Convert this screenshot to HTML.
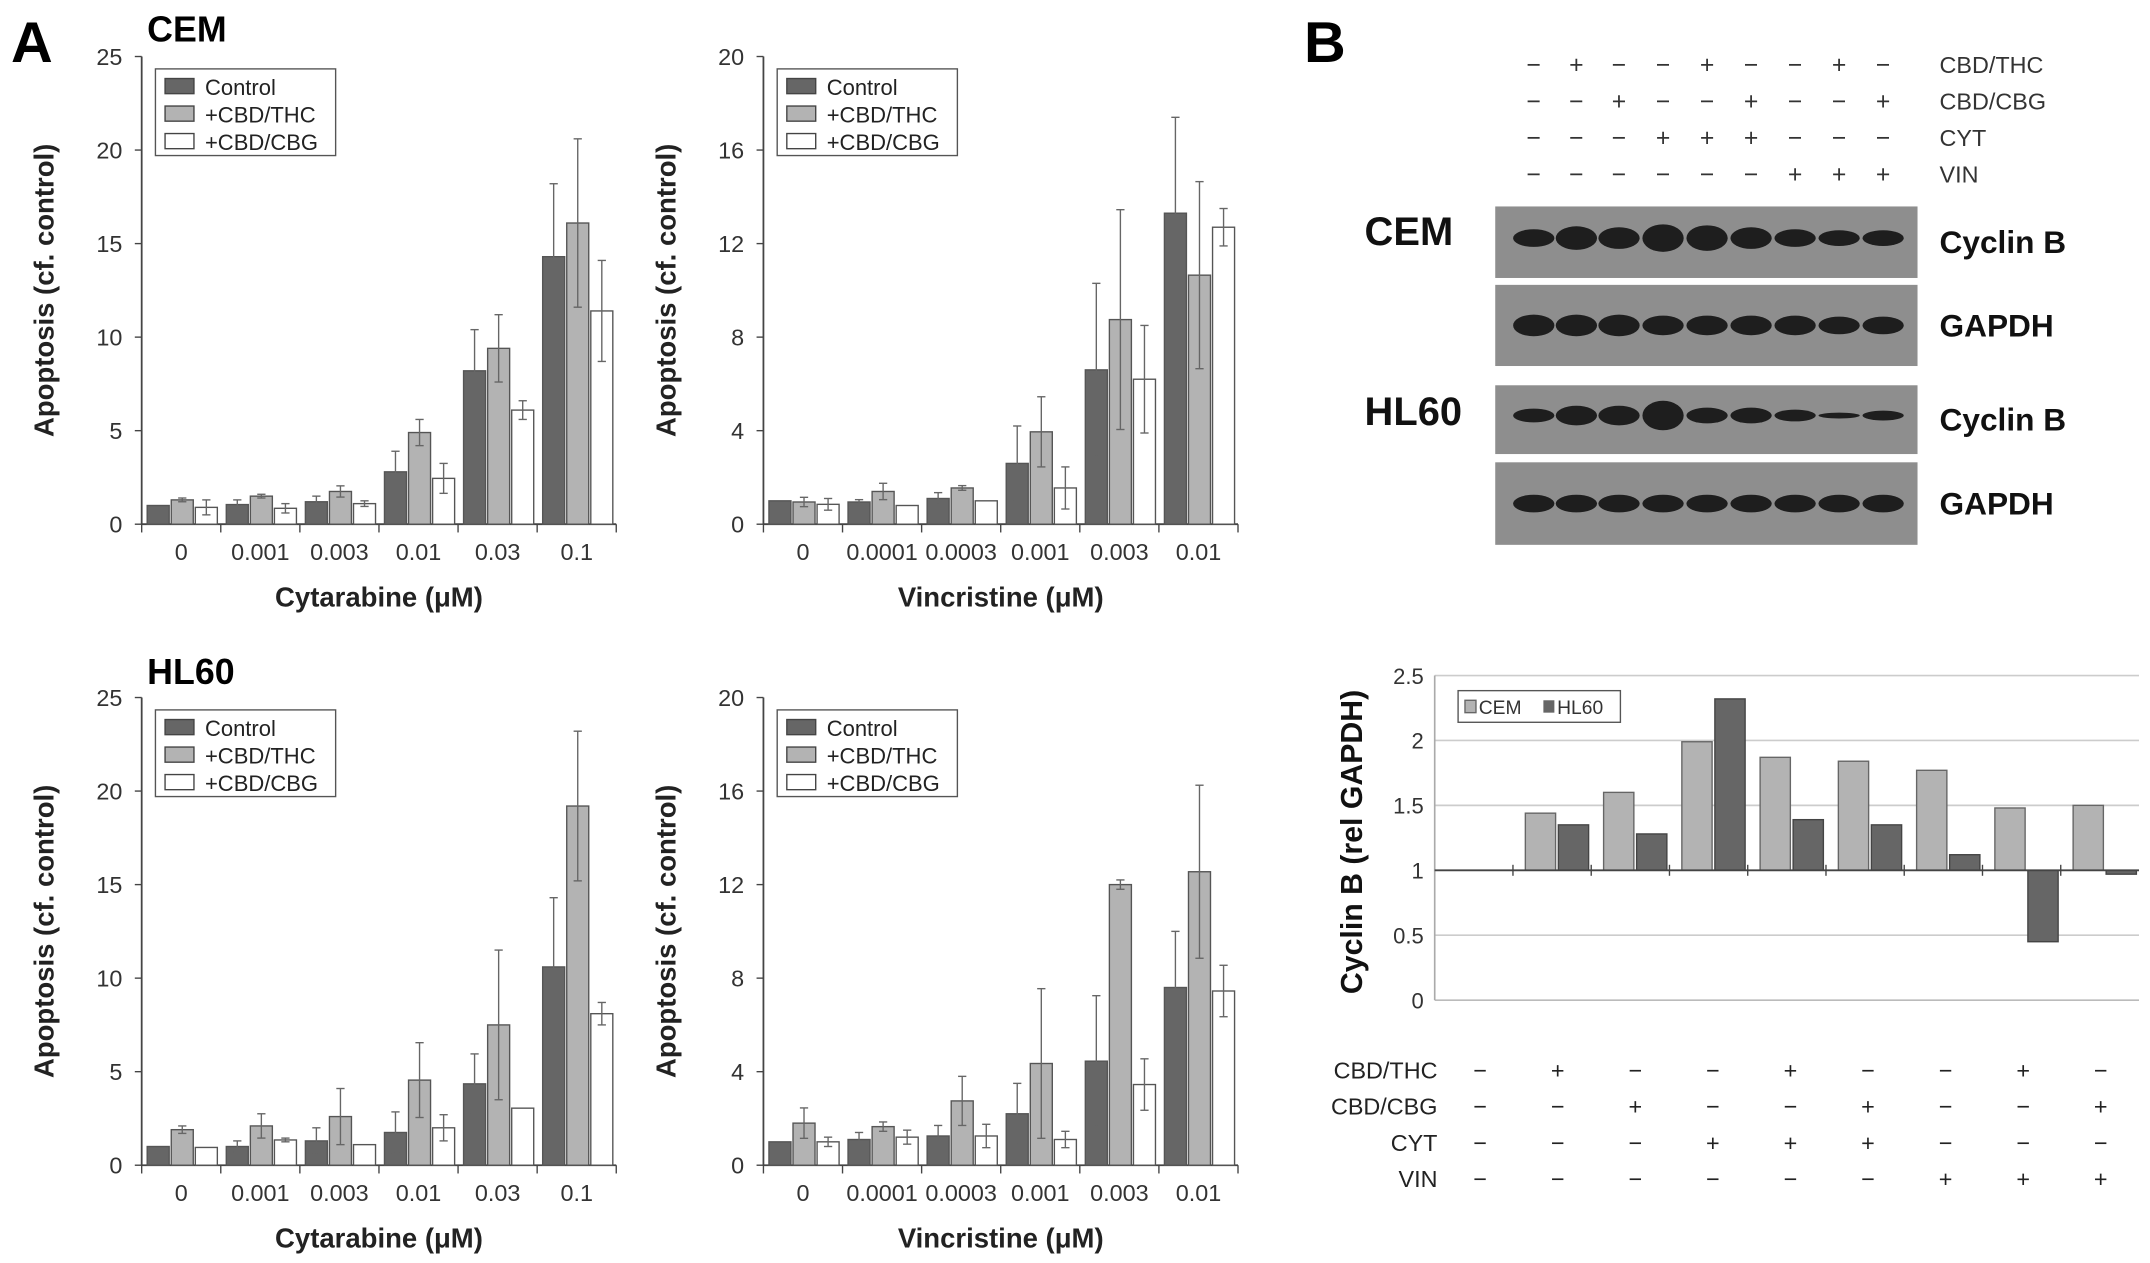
<!DOCTYPE html>
<html><head><meta charset="utf-8"><style>
html,body{margin:0;padding:0;background:#fff}
svg{display:block;font-family:"Liberation Sans",Arial,sans-serif}
</style></head><body>
<svg id="fig" width="2150" height="1263" viewBox="0 0 1563 918" xmlns="http://www.w3.org/2000/svg">
<rect width="1563" height="918" fill="#fff"/>
<text x="8" y="45" font-size="42" font-weight="bold">A</text>
<text x="948" y="45" font-size="42" font-weight="bold">B</text>
<text x="107" y="30" font-size="26" font-weight="bold">CEM</text>
<text x="107" y="497" font-size="26" font-weight="bold">HL60</text>
<g id="panels"></g>
<g id="blots"></g>
<g id="cyclin"></g>
</svg>
<script>
const NS="http://www.w3.org/2000/svg";
const seriesNames=["Control","+CBD/THC","+CBD/CBG"];
const fills=["#666","#b3b3b3","#fff"];
const cytCats=["0","0.001","0.003","0.01","0.03","0.1"];
const vinCats=["0","0.0001","0.0003","0.001","0.003","0.01"];
const cemCytCtrl=[1,1.05,1.2,2.8,8.2,14.3], cemCytCtrlErr=[0,0.25,0.3,1.1,2.2,3.9];
const cemCytThc=[1.3,1.5,1.75,4.9,9.4,16.1], cemCytThcErr=[0.1,0.1,0.3,0.7,1.8,4.5];
const cemCytCbg=[0.9,0.85,1.1,2.45,6.1,11.4], cemCytCbgErr=[0.4,0.25,0.15,0.8,0.5,2.7];
const cemVinCtrl=[1,0.95,1.1,2.6,6.6,13.3], cemVinCtrlErr=[0,0.1,0.25,1.6,3.7,4.1];
const cemVinThc=[0.95,1.4,1.55,3.95,8.75,10.65], cemVinThcErr=[0.2,0.35,0.1,1.5,4.7,4.0];
const cemVinCbg=[0.85,0.8,1.0,1.55,6.2,12.7], cemVinCbgErr=[0.25,0,0,0.9,2.3,0.8];
const hlCytCtrl=[1,1.0,1.3,1.75,4.35,10.6], hlCytCtrlErr=[0,0.3,0.7,1.1,1.6,3.7];
const hlCytThc=[1.9,2.1,2.6,4.55,7.5,19.2], hlCytThcErr=[0.2,0.65,1.5,2.0,4.0,4.0];
const hlCytCbg=[0.95,1.35,1.1,2.0,3.05,8.1], hlCytCbgErr=[0,0.1,0,0.7,0,0.6];
const hlVinCtrl=[1,1.1,1.25,2.2,4.45,7.6], hlVinCtrlErr=[0,0.3,0.45,1.3,2.8,2.4];
const hlVinThc=[1.8,1.65,2.75,4.35,12.0,12.55], hlVinThcErr=[0.65,0.2,1.05,3.2,0.2,3.7];
const hlVinCbg=[1.0,1.2,1.25,1.1,3.45,7.45], hlVinCbgErr=[0.2,0.3,0.5,0.35,1.1,1.1];
const cytTicks=[0,5,10,15,20,25];
const vinTicks=[0,4,8,12,16,20];
const lanesTHC=["−","+","−","−","+","−","−","+","−"];
const lanesCBG=["−","−","+","−","−","+","−","−","+"];
const lanesCYT=["−","−","−","+","+","+","−","−","−"];
const lanesVIN=["−","−","−","−","−","−","+","+","+"];
const cyclinCEM=[1,1.44,1.6,1.99,1.87,1.84,1.77,1.48,1.5];
const cyclinHL60=[1,1.35,1.28,2.32,1.39,1.35,1.12,0.45,0.97];
const cyclinTicks=["0","0.5","1","1.5","2","2.5"];

function mk(tag,attrs,parent,txt){const e=document.createElementNS(NS,tag);for(const k in attrs)e.setAttribute(k,attrs[k]);if(txt!==undefined)e.textContent=txt;parent.appendChild(e);return e;}

function panel(x0,yTop,yBot,xEnd,ticks,cats,vals,errs,xtitle,id){
  const g=mk("g",{},document.getElementById("panels"));
  
  
  const maxV=ticks[ticks.length-1];
  const Y=v=>yBot-(v/maxV)*(yBot-yTop);
  const gw=(xEnd-x0)/cats.length;
  const X=i=>x0+i*gw;
  const ax=mk("line",{x1:x0,y1:yTop,x2:x0,y2:yBot,stroke:"#444","stroke-width":1.3},g);
  
  
  ticks.forEach(t=>{
    mk("line",{x1:x0-5,y1:Y(t),x2:x0,y2:Y(t),stroke:"#444"},g);
    const tl=mk("text",{x:x0-14,y:Y(t)+6,"font-size":17,"text-anchor":"end",fill:"#333"},g,String(t));
    
    
  });
  const xa=mk("line",{x1:x0,y1:yBot,x2:xEnd,y2:yBot,stroke:"#444","stroke-width":1.3},g);
  
  
  for(let i=0;i<=cats.length;i++)mk("line",{x1:X(i),y1:yBot,x2:X(i),y2:yBot+6,stroke:"#444"},g);
  cats.forEach((c,i)=>{
    const tl=mk("text",{x:X(i)+gw/2,y:yBot+26,"font-size":17,"text-anchor":"middle",fill:"#333"},g,c);
    
    
    for(let s=0;s<3;s++){
      const bx=X(i)+4+s*17.5, bw=16, v=vals[s][i], e=errs[s][i];
      const r=mk("rect",{x:bx,y:Y(v),width:bw,height:yBot-Y(v),fill:fills[s],stroke:"#555","stroke-width":1},g);
      
      
      if(e>0){
        const cx=bx+bw/2;
        mk("line",{x1:cx,y1:Y(v+e),x2:cx,y2:Y(Math.max(0,v-e)),stroke:"#666","stroke-width":1},g);
        mk("line",{x1:cx-3,y1:Y(v+e),x2:cx+3,y2:Y(v+e),stroke:"#666"},g);
        mk("line",{x1:cx-3,y1:Y(Math.max(0,v-e)),x2:cx+3,y2:Y(Math.max(0,v-e)),stroke:"#666"},g);
      }
    }
  });
  const yl=mk("text",{transform:`translate(${x0-64},${(yTop+yBot)/2}) rotate(-90)`,"font-size":20,"font-weight":"bold","text-anchor":"middle",fill:"#222"},g,"Apoptosis (cf. control)");
  
  
  const xt=mk("text",{x:(x0+xEnd)/2,y:yBot+60,"font-size":20,"font-weight":"bold","text-anchor":"middle",fill:"#222"},g,xtitle);
  
  
  const lg=mk("g",{},g);
  
  
  mk("rect",{x:x0+10,y:yTop+9,width:131,height:63,fill:"#fff",stroke:"#555"},lg);
  seriesNames.forEach((n,s)=>{
    mk("rect",{x:x0+17,y:yTop+16+s*20,width:21,height:11,fill:fills[s],stroke:"#444"},lg);
    const t=mk("text",{x:x0+46,y:yTop+28+s*20,"font-size":16,fill:"#222"},lg,n);
    
    
  });
}
panel(103,41,381,448,cytTicks,cytCats,[cemCytCtrl,cemCytThc,cemCytCbg],[cemCytCtrlErr,cemCytThcErr,cemCytCbgErr],"Cytarabine (μM)","cem-cytarabine-chart");
panel(555,41,381,900,vinTicks,vinCats,[cemVinCtrl,cemVinThc,cemVinCbg],[cemVinCtrlErr,cemVinThcErr,cemVinCbgErr],"Vincristine (μM)","cem-vincristine-chart");
panel(103,507,847,448,cytTicks,cytCats,[hlCytCtrl,hlCytThc,hlCytCbg],[hlCytCtrlErr,hlCytThcErr,hlCytCbgErr],"Cytarabine (μM)","hl60-cytarabine-chart");
panel(555,507,847,900,vinTicks,vinCats,[hlVinCtrl,hlVinThc,hlVinCbg],[hlVinCtrlErr,hlVinThcErr,hlVinCbgErr],"Vincristine (μM)","hl60-vincristine-chart");

// Western blots
(function(){
  const g=document.getElementById("blots");
  
  
  const laneX=[1115,1146,1177,1209,1241,1273,1305,1337,1369];
  const rows=[lanesTHC,lanesCBG,lanesCYT,lanesVIN], rowNames=["CBD/THC","CBD/CBG","CYT","VIN"];
  rows.forEach((r,ri)=>{
    const y=47+ri*26.5;
    r.forEach((s,i)=>{mk("text",{x:laneX[i],y:y+6,"font-size":18,"text-anchor":"middle",fill:"#333"},g,s);});
    const t=mk("text",{x:1410,y:y+6,"font-size":17,fill:"#333"},g,rowNames[ri]);
    
    
  });
  const strips=[[150,52,"Cyclin B",[9,12,11,14,13,11,9,8,8]],[207,59,"GAPDH",[11,11,11,10,10,10,10,9,9]],[280,50,"Cyclin B",[7,10,10,15,8,8,6,3,5]],[336,60,"GAPDH",[9,9,9,9,9,9,9,9,9]]];
  strips.forEach(([y,h,lab,bh])=>{
    const r=mk("rect",{x:1087,y:y,width:307,height:h,fill:"#8e8e8e"},g);
    
    
    laneX.forEach((x,i)=>{mk("ellipse",{cx:x,cy:y+h*0.5-(lab==="Cyclin B"?3:0),rx:15,ry:bh[i]/1.4,fill:"#1e1e1e"},g);});
    const t=mk("text",{x:1410,y:y+h/2+8,"font-size":23,"font-weight":"bold",fill:"#111"},g,lab);
    
    
  });
  mk("text",{x:992,y:178,"font-size":29,"font-weight":"bold",fill:"#111"},g,"CEM");
  mk("text",{x:992,y:309,"font-size":29,"font-weight":"bold",fill:"#111"},g,"HL60");
})();

// Cyclin B chart
(function(){
  const g=document.getElementById("cyclin");
  
  
  const x0=1043,xEnd=1555,yTop=491,yBot=727;
  const Y=v=>yBot-(v/2.5)*(yBot-yTop);
  const gw=(xEnd-x0)/9;
  cyclinTicks.forEach(t=>{
    const v=parseFloat(t);
    if(v!==1&&v!==0)mk("line",{x1:x0,y1:Y(v),x2:xEnd,y2:Y(v),stroke:"#ccc","stroke-width":1.2},g);
    const tl=mk("text",{x:x0-8,y:Y(v)+6,"font-size":16,"text-anchor":"end",fill:"#333"},g,t);
    
    
  });
  mk("line",{x1:x0,y1:Y(0),x2:xEnd,y2:Y(0),stroke:"#bbb","stroke-width":1.2},g);
  mk("line",{x1:x0,y1:yTop,x2:x0,y2:yBot,stroke:"#aaa","stroke-width":1.2},g);
  for(let i=0;i<9;i++){
    const cx=x0+i*gw;
    const a=cyclinCEM[i],b=cyclinHL60[i];
    const r1=mk("rect",{x:cx+9,y:Y(Math.max(a,1)),width:22,height:Math.abs(Y(a)-Y(1)),fill:"#b3b3b3",stroke:"#666"},g);
    
    
    const r2=mk("rect",{x:cx+33,y:Y(Math.max(b,1)),width:22,height:Math.abs(Y(b)-Y(1)),fill:"#666",stroke:"#444"},g);
    
    
    if(i>0)mk("line",{x1:cx,y1:Y(1)-4,x2:cx,y2:Y(1)+4,stroke:"#444"},g);
  }
  mk("line",{x1:x0,y1:Y(1),x2:xEnd,y2:Y(1),stroke:"#444","stroke-width":1.3},g);
  const lg=mk("g",{},g);
  
  
  mk("rect",{x:1060,y:502,width:118,height:23,fill:"#fff",stroke:"#555"},lg);
  mk("rect",{x:1065,y:509,width:8,height:9,fill:"#b3b3b3",stroke:"#666"},lg);
  mk("text",{x:1075,y:519,"font-size":14,fill:"#333"},lg,"CEM");
  mk("rect",{x:1122,y:509,width:8,height:9,fill:"#666"},lg);
  mk("text",{x:1132,y:519,"font-size":14,fill:"#333"},lg,"HL60");
  const yl=mk("text",{transform:`translate(990,612) rotate(-90)`,"font-size":22,"font-weight":"bold","text-anchor":"middle",fill:"#111"},g,"Cyclin B (rel GAPDH)");
  
  
  const rows=[lanesTHC,lanesCBG,lanesCYT,lanesVIN], rowNames=["CBD/THC","CBD/CBG","CYT","VIN"];
  rows.forEach((r,ri)=>{
    const y=778+ri*26.3;
    const t=mk("text",{x:1045,y:y+6,"font-size":17,"text-anchor":"end",fill:"#222"},g,rowNames[ri]);
    
    
    r.forEach((s,i)=>{mk("text",{x:1076+i*56.4,y:y+6,"font-size":17,"text-anchor":"middle",fill:"#222"},g,s);});
  });
})();
</script>
</body></html>
